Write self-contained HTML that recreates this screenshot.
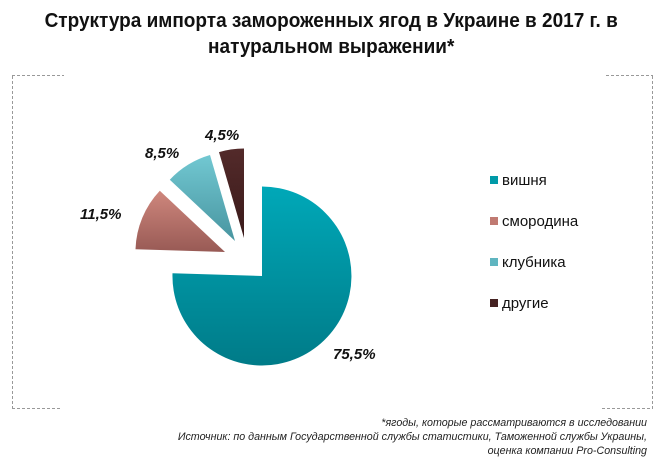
<!DOCTYPE html>
<html><head><meta charset="utf-8"><style>
body{margin:0;width:662px;height:468px;background:#fff;overflow:hidden;position:relative;font-family:"Liberation Sans",sans-serif}
.t{position:absolute;left:0;width:662px;text-align:center;font-family:"Liberation Sans",sans-serif;font-weight:bold;font-size:20px;color:#111;transform:scaleX(0.95);transform-origin:335px 0}
.lg{position:absolute;left:490px;font-size:15px;color:#111}
.lg i{display:inline-block;width:8px;height:8px;margin-right:4px;vertical-align:1px}
.fn{position:absolute;right:15px;font-style:italic;font-size:10.7px;color:#222;text-align:right;line-height:14px;top:416px}
</style></head><body>
<div class="t" style="top:10px">Структура импорта замороженных ягод в Украине в 2017 г. в</div>
<div class="t" style="top:36px">натуральном выражении*</div>
<svg width="662" height="468" style="position:absolute;left:0;top:0">
<defs>
<linearGradient id="g1" x1="0" y1="0" x2="0" y2="1"><stop offset="0" stop-color="#00a8b8"/><stop offset="1" stop-color="#007b88"/></linearGradient>
<linearGradient id="g2" x1="0" y1="0" x2="0" y2="1"><stop offset="0" stop-color="#cf877d"/><stop offset="1" stop-color="#985a55"/></linearGradient>
<linearGradient id="g3" x1="0" y1="0" x2="0" y2="1"><stop offset="0" stop-color="#72c8d2"/><stop offset="1" stop-color="#4895a0"/></linearGradient>
<linearGradient id="g4" x1="0" y1="0" x2="0" y2="1"><stop offset="0" stop-color="#532a2a"/><stop offset="1" stop-color="#3a1a1a"/></linearGradient>
</defs>
<g stroke="#999" stroke-width="1" stroke-dasharray="3,2" fill="none">
<path d="M12.5 76 V408"/><path d="M652.5 76 V408"/>
<path d="M12 75.5 H64"/><path d="M606 75.5 H653"/>
<path d="M12 408.5 H62"/><path d="M602 408.5 H653"/>
</g>
<path d="M262 276 L262 186.5 A89.5 89.5 0 1 1 172.5 273.2 Z" fill="url(#g1)"/>
<path d="M225 252 L135.5 249.2 A89.5 89.5 0 0 1 159.8 190.7 Z" fill="url(#g2)"/>
<path d="M235 241 L169.8 179.7 A89.5 89.5 0 0 1 210 155 Z" fill="url(#g3)"/>
<path d="M244 238 L219 152.1 A89.5 89.5 0 0 1 244 148.5 Z" fill="url(#g4)"/>
<g font-family="Liberation Sans,sans-serif" font-weight="bold" font-style="italic" font-size="15" fill="#111">
<text x="205" y="140">4,5%</text>
<text x="145" y="158">8,5%</text>
<text x="80" y="219">11,5%</text>
<text x="333" y="359">75,5%</text>
</g>
</svg>
<div class="lg" style="top:172px"><i style="background:#009aa8"></i>вишня</div>
<div class="lg" style="top:213px"><i style="background:#c07a72"></i>смородина</div>
<div class="lg" style="top:254px"><i style="background:#5fb5c0"></i>клубника</div>
<div class="lg" style="top:295px"><i style="background:#452222"></i>другие</div>
<div class="fn">*ягоды, которые рассматриваются в исследовании<br>Источник: по данным Государственной службы статистики, Таможенной службы Украины,<br>оценка компании Pro-Consulting</div>
</body></html>
